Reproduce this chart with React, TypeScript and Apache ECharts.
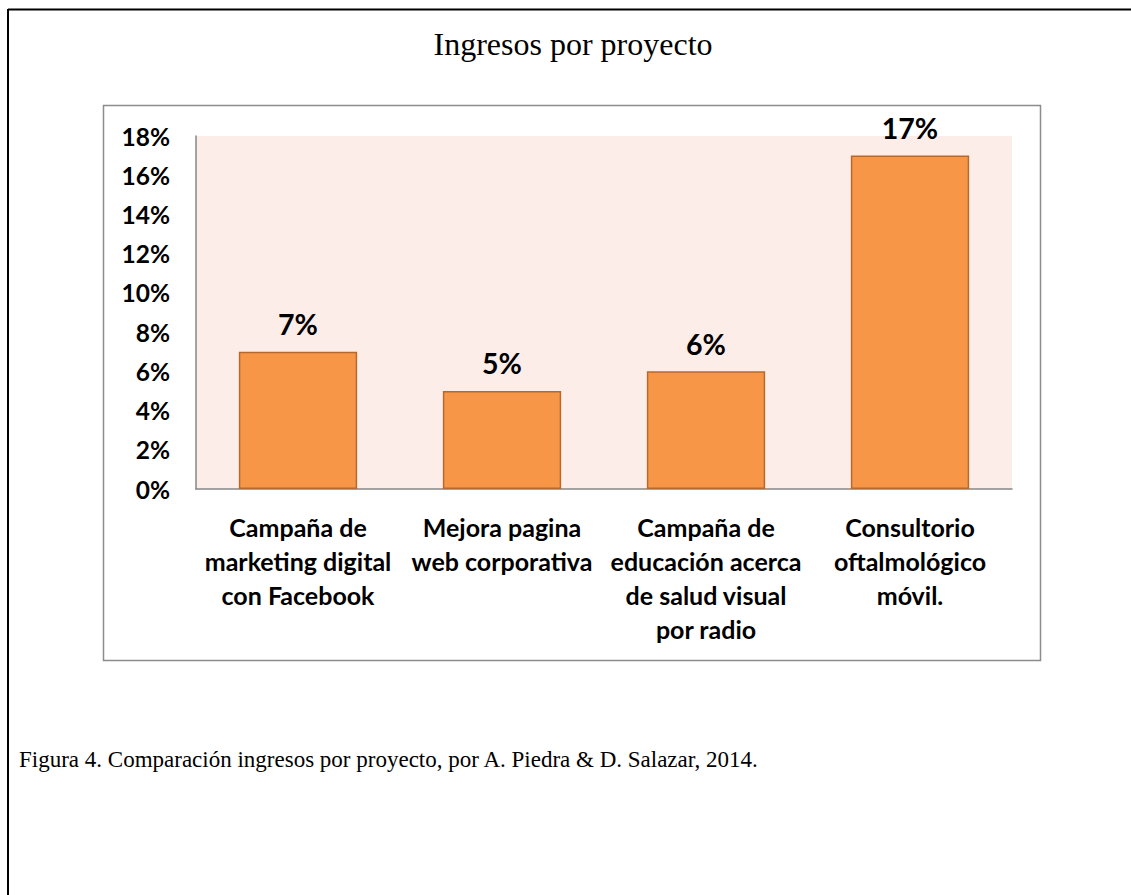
import React, { useEffect, useRef } from "react";
import * as echarts from "echarts";

const categories = [
  "Campaña de\nmarketing digital\ncon Facebook",
  "Mejora pagina\nweb corporativa",
  "Campaña de\neducación acerca\nde salud visual\npor radio",
  "Consultorio\noftalmológico\nmóvil.",
];
const values = [7, 5, 6, 17];
const yMax = 18;
const yInterval = 2;
const titleText = "Ingresos por proyecto";
const captionText =
  "Figura 4. Comparación ingresos por proyecto, por A. Piedra & D. Salazar, 2014.";

export default function App() {
  const ref = useRef<HTMLDivElement>(null);
  useEffect(() => {
    if (!ref.current) return;
    const chart = echarts.init(ref.current, null, { renderer: "svg" });
    chart.setOption({
      animation: false,
      backgroundColor: "#ffffff",
      grid: {
        left: 196,
        top: 136,
        right: 119,
        bottom: 406,
        show: true,
        backgroundColor: "#fdede8",
        borderWidth: 0,
      },
      xAxis: {
        type: "category",
        data: categories,
        axisLine: { show: true, lineStyle: { color: "#868686", width: 1.5 } },
        axisTick: { show: false },
        axisLabel: {
          interval: 0,
          margin: 21,
          fontFamily: "Lato",
          fontWeight: "bold",
          fontSize: 25,
          lineHeight: 34,
          color: "#000",
          align: "center",
        },
      },
      yAxis: {
        type: "value",
        min: 0,
        max: yMax,
        interval: yInterval,
        axisLine: { show: true, lineStyle: { color: "#868686", width: 1.5 } },
        axisTick: { show: false },
        splitLine: { show: false },
        axisLabel: {
          margin: 26,
          formatter: "{value}%",
          fontFamily: "Lato",
          fontWeight: "bold",
          fontSize: 24.5,
          color: "#000",
        },
      },
      series: [
        {
          type: "bar",
          data: values,
          barCategoryGap: "42%",
          itemStyle: {
            color: "#f79646",
            borderColor: "#b5692f",
            borderWidth: 1.5,
          },
          label: {
            show: true,
            position: "top",
            distance: 13,
            formatter: "{c}%",
            fontFamily: "Lato",
            fontWeight: "bold",
            fontSize: 28.5,
            color: "#000",
          },
        },
      ],
      graphic: [
        {
          type: "line",
          shape: { x1: 8, y1: 9.5, x2: 1131, y2: 9.5 },
          style: { stroke: "#000", lineWidth: 2 },
        },
        {
          type: "line",
          shape: { x1: 8, y1: 9, x2: 8, y2: 895 },
          style: { stroke: "#000", lineWidth: 2 },
        },
        {
          type: "rect",
          shape: { x: 103.5, y: 105.5, width: 937, height: 555 },
          style: { fill: "none", stroke: "#8c8c8c", lineWidth: 1.5 },
          silent: true,
        },
        {
          type: "text",
          x: 573,
          y: 44,
          style: {
            text: titleText,
            fontFamily: "Liberation Serif",
            fontSize: 32,
            fill: "#000",
            textAlign: "center",
            textVerticalAlign: "middle",
          },
        },
        {
          type: "text",
          x: 19,
          y: 759,
          style: {
            text: captionText,
            fontFamily: "Liberation Serif",
            fontSize: 23,
            fill: "#000",
            textAlign: "left",
            textVerticalAlign: "middle",
          },
        },
      ],
    });
    return () => chart.dispose();
  }, []);
  return (
    <div
      ref={ref}
      style={{ position: "fixed", left: 0, top: 0, width: 1131, height: 895 }}
    />
  );
}
